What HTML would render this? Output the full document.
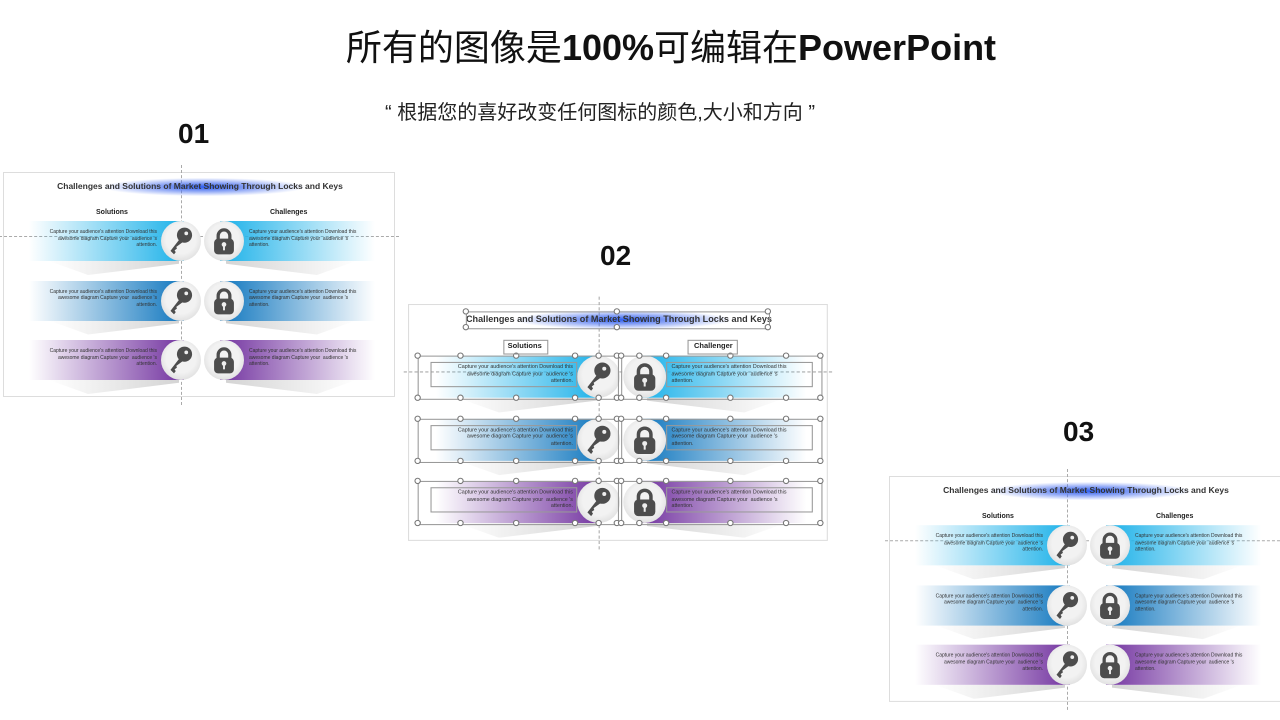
<!DOCTYPE html>
<html><head><meta charset="utf-8">
<style>
body{margin:0;width:1280px;height:720px;background:#fff;position:relative;overflow:hidden;font-family:"Liberation Sans","Noto Sans CJK SC",sans-serif}
.abs{position:absolute}
.h1{left:0;width:1342px;top:19px;text-align:center;font-size:36px;color:#111}
.h2{left:385px;top:96px;font-size:20px;color:#222}
.num{font-size:28px;font-weight:bold;color:#111}
.panel{position:absolute;width:392px;height:225px;transform-origin:0 0;background:#fff;border:1px solid #ddd;box-sizing:border-box;overflow:visible}
.panel .t{position:absolute;left:0;width:392px;top:8px;text-align:center;font-size:8.5px;font-weight:bold;color:#333}
.glow{position:absolute;left:100px;top:5px;width:200px;height:18px;background:radial-gradient(ellipse at center,#2f5ff0 0%,rgba(70,110,240,.6) 35%,rgba(255,255,255,0) 72%)}
.sub{position:absolute;top:36px;font-size:7px;font-weight:bold;color:#222}
.band{position:absolute;height:40px}
.shadow{position:absolute;height:14px}
.txt{position:absolute;font-size:5px;line-height:6.6px;color:#333}
.circ{position:absolute;width:40px;height:40px;border-radius:50%;background:radial-gradient(circle at 50% 45%,#f2f2f2 50%,#cfcfcf 100%)}
.circ svg{position:absolute;left:6px;top:6px}
.vd{position:absolute;left:177px;top:-8px;height:240px;border-left:1px dashed #aaa}
.hd{position:absolute;left:-5px;width:400px;top:63px;border-top:1px dashed #aaa}
.hb{position:absolute;border:1px solid #999}
.hn{position:absolute;width:4px;height:4px;border:1px solid #777;background:#fff;border-radius:50%}
</style></head><body>
<div class="abs h1">所有的图像是<b>100%</b>可编辑在<b>PowerPoint</b></div>
<div class="abs h2">“ 根据您的喜好改变任何图标的颜色,大小和方向 ”</div>
<div class="abs num" style="left:178px;top:118px">01</div>
<div class="abs num" style="left:600px;top:240px">02</div>
<div class="abs num" style="left:1063px;top:416px">03</div>

<div id="p1" class="panel" style="left:3px;top:172px"></div>
<div id="p2" class="panel" style="left:408px;top:304px;transform:scale(1.071,1.053)"></div>
<div id="p3" class="panel" style="left:889px;top:476px;transform:scale(1,1.004)"></div>

<script>
var key='<svg width="28" height="28" viewBox="0 0 24 24"><circle cx="15" cy="7" r="6.5" fill="#4d4d4d"/><circle cx="16.5" cy="5.5" r="1.6" fill="#eee"/><path d="M11.5 9.5 L3 20.5 L6 23.5 L7.5 21.5 L6.5 20 L8.5 18.5 L8 17 L15.5 11.5 Z" fill="#4d4d4d"/></svg>';
var lock='<svg width="28" height="28" viewBox="0 0 24 24"><path d="M7 11 V7.5 a5 5 0 0 1 10 0 V11" stroke="#4d4d4d" stroke-width="2.8" fill="none"/><rect x="3.5" y="10" width="17" height="13.5" rx="3.5" fill="#4d4d4d"/><circle cx="12" cy="15" r="2" fill="#eee"/><rect x="11.2" y="15" width="1.6" height="5" fill="#eee"/></svg>';
var cols=['#27b5ea','#1d7ec2','#7a3ea5'];
var tx="Capture your audience's attention Download this<br>awesome diagram Capture your &nbsp;audience 's<br>attention.";
function build(id,sel){
 var h='<div class="vd"></div><div class="hd"></div><div class="glow"></div><div class="t">Challenges and Solutions of Market Showing Through Locks and Keys</div>';
 h+='<div class="sub" style="left:92px">Solutions</div><div class="sub" style="left:266px">'+(sel?'Challenger':'Challenges')+'</div>';
 for(var i=0;i<3;i++){
  var y=48+i*59.5,c=cols[i];
  h+='<div class="shadow" style="left:45px;top:'+(y+40)+'px;width:130px;background:linear-gradient(to right,rgba(255,255,255,0),rgba(160,160,160,.45));clip-path:polygon(0 0,100% 0,100% 20%,30% 100%)"></div>';
  h+='<div class="shadow" style="left:222px;top:'+(y+40)+'px;width:130px;background:linear-gradient(to left,rgba(255,255,255,0),rgba(160,160,160,.45));clip-path:polygon(0 0,100% 0,70% 100%,0 20%)"></div>';
  h+='<div class="band" style="left:25px;top:'+y+'px;width:155px;background:linear-gradient(to right,rgba(255,255,255,0),'+c+' 95%)"></div>';
  h+='<div class="band" style="left:216px;top:'+y+'px;width:155px;background:linear-gradient(to left,rgba(255,255,255,0),'+c+' 95%)"></div>';
  h+='<div class="txt" style="left:20px;width:133px;text-align:right;top:'+(y+8)+'px">'+tx+'</div>';
  h+='<div class="txt" style="left:245px;width:135px;top:'+(y+8)+'px">'+tx+'</div>';
  h+='<div class="circ" style="left:157px;top:'+(y)+'px">'+key+'</div>';
  h+='<div class="circ" style="left:200px;top:'+(y)+'px">'+lock+'</div>';
  if(sel){
   h+='<div class="hb" style="left:8px;top:'+(y)+'px;width:186px;height:40px"></div>';
   h+='<div class="hb" style="left:198px;top:'+(y)+'px;width:186px;height:40px"></div>';
   h+='<div class="hb" style="left:20px;top:'+(y+6)+'px;width:135px;height:22px"></div>';
   h+='<div class="hb" style="left:240px;top:'+(y+6)+'px;width:135px;height:22px"></div>';
   var xs=[8,48,100,155,177,194,198,215,240,300,352,384];
   xs.forEach(function(x){h+='<div class="hn" style="left:'+(x-3)+'px;top:'+(y-3)+'px"></div><div class="hn" style="left:'+(x-3)+'px;top:'+(y+37)+'px"></div>';});
  }
 }
 if(sel){
  h+='<div class="hb" style="left:53px;top:6px;width:282px;height:15px"></div>';
  h+='<div class="hb" style="left:88px;top:33px;width:40px;height:12px"></div>';
  h+='<div class="hb" style="left:260px;top:33px;width:45px;height:12px"></div>';
  [53,194,335].forEach(function(x){h+='<div class="hn" style="left:'+(x-3)+'px;top:3px"></div><div class="hn" style="left:'+(x-3)+'px;top:18px"></div>';});
 }
 document.getElementById(id).innerHTML=h;
}
build('p1',false);build('p2',true);build('p3',false);
</script>
</body></html>
